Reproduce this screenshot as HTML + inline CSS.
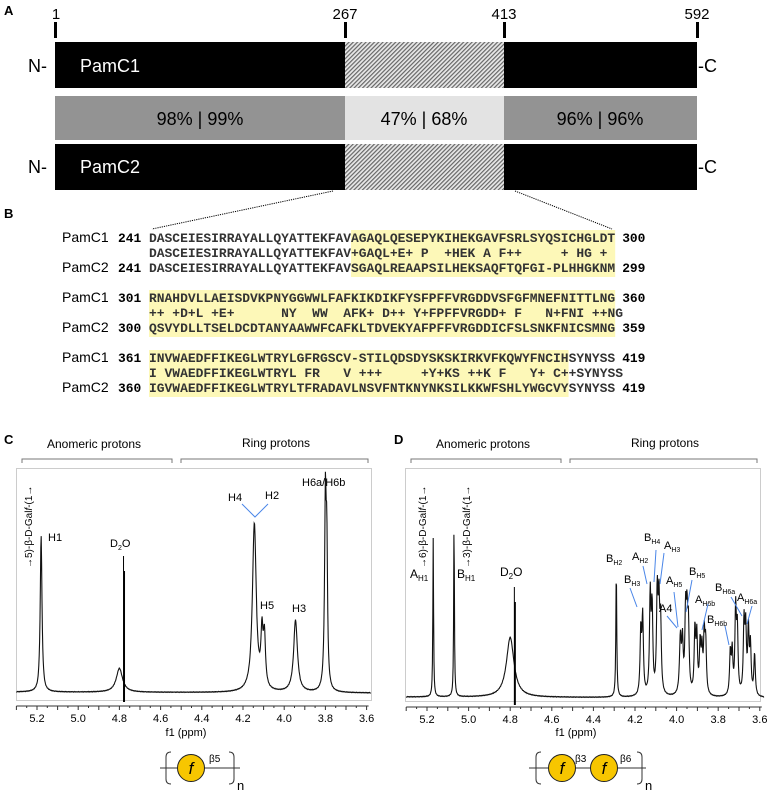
<!DOCTYPE html>
<html><head><meta charset="utf-8"><style>
body{margin:0;background:#fff;}
svg{display:block;}
.s{font-family:"Liberation Sans",sans-serif;}
.m{font-family:"Liberation Mono",monospace;font-weight:bold;font-size:12.9px;}
</style></head><body>
<svg id="sv" width="767" height="790" viewBox="0 0 767 790" xmlns="http://www.w3.org/2000/svg">
<defs>
<pattern id="h" width="3" height="3" patternUnits="userSpaceOnUse" patternTransform="rotate(45)">
<rect width="3" height="3" fill="#e8e8e8"/><rect width="1.2" height="3" fill="#666"/></pattern>
</defs>
<g class="s">
<text x="4" y="15" font-size="13" font-weight="bold">A</text>
<g font-size="15" text-anchor="middle"><text x="56" y="19">1</text><text x="345" y="19">267</text><text x="504" y="19">413</text><text x="697" y="19">592</text></g>
<g fill="#000"><rect x="54" y="22" width="3" height="16"/><rect x="344" y="22" width="3" height="16"/><rect x="503" y="22" width="3" height="16"/><rect x="696" y="22" width="3" height="16"/></g>
<rect x="55" y="42" width="290" height="46" fill="#000"/><rect x="345" y="42" width="159" height="46" fill="url(#h)"/><rect x="504" y="42" width="193" height="46" fill="#000"/>
<rect x="55" y="96" width="290" height="44" fill="#939393"/><rect x="345" y="96" width="159" height="44" fill="#e3e3e3"/><rect x="504" y="96" width="193" height="44" fill="#939393"/>
<rect x="55" y="144" width="290" height="46" fill="#000"/><rect x="345" y="144" width="159" height="46" fill="url(#h)"/><rect x="504" y="144" width="193" height="46" fill="#000"/>
<g font-size="18"><text x="80" y="72" fill="#fff">PamC1</text><text x="80" y="173" fill="#fff">PamC2</text>
<text x="28" y="72">N-</text><text x="28" y="173">N-</text><text x="698" y="72">-C</text><text x="698" y="173">-C</text>
<text x="200" y="125" text-anchor="middle">98% | 99%</text><text x="424" y="125" text-anchor="middle">47% | 68%</text><text x="600" y="125" text-anchor="middle">96% | 96%</text></g>
<line x1="333" y1="191" x2="152" y2="229" stroke="#000" stroke-dasharray="1.2,1"/>
<line x1="515" y1="191" x2="612" y2="229" stroke="#000" stroke-dasharray="1.2,1"/>
<text x="4" y="218" font-size="13" font-weight="bold">B</text>
</g>
<g id="seq"></g>
<g class="s">
<text x="4" y="444" font-size="13" font-weight="bold">C</text>
<text x="94" y="448" font-size="12" text-anchor="middle">Anomeric protons</text>
<text x="276" y="447" font-size="12" text-anchor="middle">Ring protons</text>
<path d="M22,463 V459 H172 V463 M181,463 V459 H368 V463" fill="none" stroke="#777"/>
<rect x="16.5" y="468.5" width="355" height="232" fill="none" stroke="#ccc"/>
<text x="394" y="444" font-size="13" font-weight="bold">D</text>
<text x="483" y="448" font-size="12" text-anchor="middle">Anomeric protons</text>
<text x="665" y="447" font-size="12" text-anchor="middle">Ring protons</text>
<path d="M411,463 V459 H561 V463 M570,463 V459 H757 V463" fill="none" stroke="#777"/>
<rect x="405.5" y="468.5" width="355" height="233" fill="none" stroke="#ccc"/>
</g>
<g id="spec"></g>
<g class="s" font-size="11">
<text x="32" y="568" transform="rotate(-90 32 568)" font-size="10">→5)-β-D-Gal<tspan font-style="italic">f</tspan>-(1→</text>
<text x="48" y="541">H1</text>
<text x="110" y="547">D<tspan font-size="7" dy="3">2</tspan><tspan dy="-3">O</tspan></text>
<text x="228" y="501">H4</text><text x="265" y="499">H2</text>
<path d="M242,504 L255,517 L268,504" fill="none" stroke="#4a86e8"/>
<text x="260" y="609">H5</text><text x="292" y="612">H3</text><text x="302" y="486">H6a/H6b</text>
<text x="186" y="736" text-anchor="middle">f1 (ppm)</text>
<text x="576" y="736" text-anchor="middle">f1 (ppm)</text>
<text x="426" y="568" transform="rotate(-90 426 568)" font-size="10">→6)-β-D-Gal<tspan font-style="italic">f</tspan>-(1→</text>
<text x="470" y="568" transform="rotate(-90 470 568)" font-size="10">→3)-β-D-Gal<tspan font-style="italic">f</tspan>-(1→</text>
<text x="410" y="578" font-size="12">A<tspan font-size="8" dy="3">H1</tspan></text>
<text x="457" y="578" font-size="12">B<tspan font-size="8" dy="3">H1</tspan></text>
<text x="500" y="576" font-size="12">D<tspan font-size="8" dy="3">2</tspan><tspan dy="-3">O</tspan></text>
<g font-size="11">
<text x="606" y="562">B<tspan font-size="7" dy="3">H2</tspan></text>
<text x="624" y="583">B<tspan font-size="7" dy="3">H3</tspan></text>
<text x="632" y="560">A<tspan font-size="7" dy="3">H2</tspan></text>
<text x="644" y="541">B<tspan font-size="7" dy="3">H4</tspan></text>
<text x="664" y="549">A<tspan font-size="7" dy="3">H3</tspan></text>
<text x="666" y="584">A<tspan font-size="7" dy="3">H5</tspan></text>
<text x="689" y="575">B<tspan font-size="7" dy="3">H5</tspan></text>
<text x="659" y="612">A4</text>
<text x="695" y="603">A<tspan font-size="7" dy="3">H6b</tspan></text>
<text x="707" y="623">B<tspan font-size="7" dy="3">H6b</tspan></text>
<text x="715" y="591">B<tspan font-size="7" dy="3">H6a</tspan></text>
<text x="737" y="601">A<tspan font-size="7" dy="3">H6a</tspan></text>
</g>
<path d="M630,588 L637,607 M643,566 L647,584 M656,550 L654,582 M664,553 L660,584 M674,592 L678,627 M692,580 L686,612 M667,616 L677,628 M708,604 L702,630 M725,626 L729,645 M731,597 L742,616 M752,606 L747,624" fill="none" stroke="#4a86e8"/>
</g>
<g id="gly"></g>
</svg>
<script>
var NS="http://www.w3.org/2000/svg";
function el(p,t,a,txt){var e=document.createElementNS(NS,t);for(var k in a)e.setAttribute(k,a[k]);if(txt!=null)e.textContent=txt;p.appendChild(e);return e;}
var seq=document.getElementById('seq');
var rows=[
[242,'PamC1','241','DASCEIESIRRAYALLQYATTEKFAVAGAQLQESEPYKIHEKGAVFSRLSYQSICHGLDT','300'],
[257,'','','DASCEIESIRRAYALLQYATTEKFAV+GAQL+E+ P  +HEK A F++     + HG +',''],
[272,'PamC2','241','DASCEIESIRRAYALLQYATTEKFAVSGAQLREAAPSILHEKSAQFTQFGI-PLHHGKNM','299'],
[302,'PamC1','301','RNAHDVLLAEISDVKPNYGGWWLFAFKIKDIKFYSFPFFVRGDDVSFGFMNEFNITTLNG','360'],
[317,'','','++ +D+L +E+      NY  WW  AFK+ D++ Y+FPFFVRGDD+ F   N+FNI ++NG',''],
[332,'PamC2','300','QSVYDLLTSELDCDTANYAAWWFCAFKLTDVEKYAFPFFVRGDDICFSLSNKFNICSMNG','359'],
[362,'PamC1','361','INVWAEDFFIKEGLWTRYLGFRGSCV-STILQDSDYSKSKIRKVFKQWYFNCIHSYNYSS','419'],
[377,'','','I VWAEDFFIKEGLWTRYL FR   V +++     +Y+KS ++K F   Y+ C++SYNYSS',''],
[392,'PamC2','360','IGVWAEDFFIKEGLWTRYLTFRADAVLNSVFNTKNYNKSILKKWFSHLYWGCVYSYNYSS','419']];
var cw=7.77,x0=149;
el(seq,'rect',{x:x0+26*cw,y:230,width:34*cw,height:47,fill:'#fdf8b8'});
el(seq,'rect',{x:x0,y:290,width:60*cw,height:47,fill:'#fdf8b8'});
el(seq,'rect',{x:x0,y:350,width:54*cw,height:47,fill:'#fdf8b8'});
rows.forEach(function(r){
 if(r[1])el(seq,'text',{x:62,y:r[0],'font-family':'Liberation Sans,sans-serif','font-size':'14'},r[1]);
 if(r[2])el(seq,'text',{x:118,y:r[0],'class':'m'},r[2]);
 var t=el(seq,'text',{x:x0,y:r[0],'class':'m',fill:'#333',textLength:(r[3].length*cw).toFixed(1),lengthAdjust:'spacingAndGlyphs'});
 t.setAttribute('style','white-space:pre');t.textContent=r[3];
 if(r[4])el(seq,'text',{x:x0+60*cw+7,y:r[0],'class':'m'},r[4]);
});
var sp=document.getElementById('spec');
function spec(xa,sc,base,peaks,d2o){
 var d='',N=900;
 for(var i=0;i<=N;i++){var p=5.3-(i/N)*1.72;var y=base+(5.3-p)*0.6;
  peaks.forEach(function(k){var u=(p-k[0])/k[2];y-=k[1]/(1+u*u);});
  y+=Math.sin(i*1.7)*0.3;
  var x=xa+(5.2-p)*sc;d+=(i?'L':'M')+x.toFixed(1)+','+y.toFixed(1);}
 el(sp,'path',{d:d,fill:'none',stroke:'#111','stroke-width':'1.1'});
 var xd=xa+(5.2-4.78)*sc;
 el(sp,'path',{d:'M'+xd+','+(base-d2o[1])+'L'+xd+','+d2o[0]+'M'+(xd+1)+','+(base-d2o[1]+15)+'L'+(xd+1)+','+d2o[0],stroke:'#000','stroke-width':'1'});
 var ay=base+(base>695?10:14), a='M'+(xa-(0.1*sc))+','+ay+'H'+(xa+1.6*sc+2);
 for(var q=5.3;q>=3.58;q-=0.05){var xx=xa+(5.2-q)*sc;a+='M'+xx.toFixed(1)+','+ay+'v'+(Math.round(q*20)%2==0?4:2);}
 el(sp,'path',{d:a,stroke:'#333',fill:'none'});
 ['5.2','5.0','4.8','4.6','4.4','4.2','4.0','3.8','3.6'].forEach(function(s){el(sp,'text',{x:xa+(5.2-s)*sc,y:ay+16,'text-anchor':'middle','font-family':'Liberation Sans,sans-serif','font-size':'11'},s);});
}
spec(37,206,692,[[5.18,157,0.005],[4.80,24,0.018],[4.145,168,0.011],[4.108,52,0.006],[4.096,50,0.006],[3.945,72,0.011],[3.80,190,0.005],[3.793,120,0.004]],[702,136]);
var cl=[[4.172,45,0.004],[4.163,55,0.004],[4.127,70,0.004],[4.118,60,0.004],[4.093,70,0.004],[4.085,60,0.004],[4.077,50,0.004],
[3.982,40,0.005],[3.972,35,0.004],[3.957,55,0.004],[3.950,50,0.004],[3.943,45,0.004],[3.912,45,0.004],[3.903,40,0.004],[3.887,35,0.004],[3.878,30,0.004],[3.867,40,0.004],[3.860,35,0.004],
[3.742,30,0.004],[3.733,30,0.004],[3.716,60,0.004],[3.708,45,0.004],[3.676,50,0.004],[3.668,45,0.004],[3.655,45,0.004],[3.645,35,0.004],[3.625,30,0.004]].map(function(k){return [k[0],k[1]*1.4,k[2]];});
spec(427,208,697,[[5.17,159,0.002],[5.07,180,0.002],[4.80,60,0.022],[4.29,129,0.0025]].concat(cl),[705,110]);
var g=document.getElementById('gly');
function circ(cx){el(g,'circle',{cx:cx,cy:768,r:13.5,fill:'#f7c600',stroke:'#222','stroke-width':'1'});
 el(g,'text',{x:cx,y:774,'text-anchor':'middle','font-family':'Liberation Sans,sans-serif','font-size':'17','font-style':'italic'},'f');}
function bracket(x1,x2){el(g,'path',{d:'M'+(x1+5)+',752 Q'+x1+',752 '+x1+',757 V779 Q'+x1+',784 '+(x1+5)+',784 M'+(x2-5)+',752 Q'+x2+',752 '+x2+',757 V779 Q'+x2+',784 '+(x2-5)+',784',fill:'none',stroke:'#333'});
 el(g,'text',{x:x2+3,y:790,'font-family':'Liberation Sans,sans-serif','font-size':'13'},'n');}
el(g,'line',{x1:160,y1:768,x2:240,y2:768,stroke:'#333'});
bracket(166,234);circ(191);
el(g,'text',{x:209,y:762,'font-family':'Liberation Sans,sans-serif','font-size':'10'},'β5');
el(g,'line',{x1:529,y1:768,x2:646,y2:768,stroke:'#333'});
bracket(536,642);circ(562);circ(604);
el(g,'text',{x:575,y:762,'font-family':'Liberation Sans,sans-serif','font-size':'10'},'β3');
el(g,'text',{x:620,y:762,'font-family':'Liberation Sans,sans-serif','font-size':'10'},'β6');
</script>
</body></html>
